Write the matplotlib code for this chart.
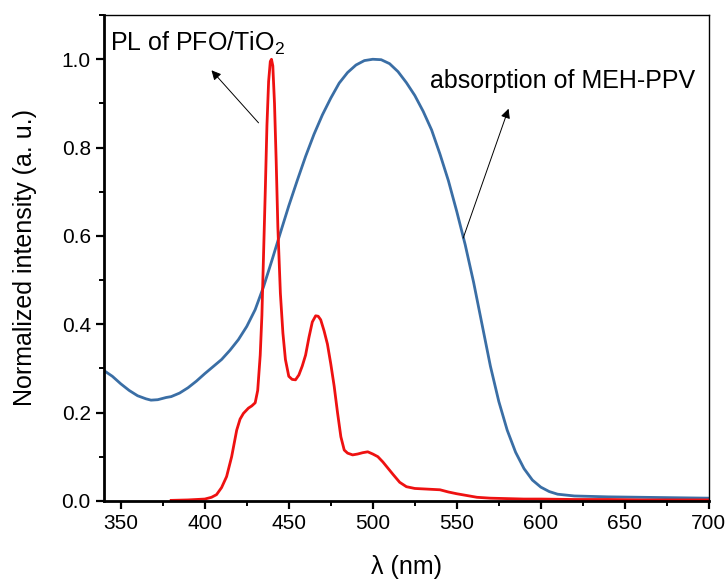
import matplotlib

matplotlib.use("Agg")
import matplotlib.pyplot as plt
from matplotlib.ticker import MultipleLocator

plt.rcParams["font.family"] = ["Liberation Sans", "DejaVu Sans"]
plt.rcParams["mathtext.fontset"] = "custom"
plt.rcParams["mathtext.rm"] = "Liberation Sans"

# absorption of MEH-PPV (blue)
abs_nm = [340, 345, 350, 355, 360, 365, 368, 372, 377, 380, 385, 390, 395, 400,
          405, 410, 415, 420, 425, 430, 435, 440, 445, 450, 455, 460, 465, 470,
          475, 480, 485, 490, 495, 500, 505, 510, 515, 520, 525, 530, 535, 540,
          545, 550, 555, 560, 565, 570, 575, 580, 585, 590, 595, 600, 605, 610,
          620, 640, 660, 680, 700]
abs_val = [0.295, 0.282, 0.265, 0.250, 0.238, 0.231, 0.228, 0.229, 0.234, 0.236,
           0.244, 0.256, 0.271, 0.288, 0.304, 0.320, 0.341, 0.365, 0.395, 0.433,
           0.485, 0.545, 0.607, 0.668, 0.725, 0.780, 0.830, 0.874, 0.912, 0.946,
           0.970, 0.987, 0.997, 1.000, 0.999, 0.990, 0.972, 0.947, 0.918, 0.882,
           0.840, 0.785, 0.725, 0.655, 0.580, 0.495, 0.400, 0.305, 0.225, 0.160,
           0.110, 0.073, 0.047, 0.031, 0.021, 0.015, 0.011, 0.009, 0.008, 0.007,
           0.006]

# PL of PFO/TiO2 (red)
pl_nm = [380, 390, 400, 404, 407, 410, 413, 416, 419, 421, 423, 426, 428, 430,
         431.5, 433, 434, 435, 436, 437, 438, 439, 439.7, 440.5, 441.5, 442.5,
         443.5, 445, 446.5, 448, 450, 452, 454, 456, 458, 460, 462, 464, 466,
         467.5, 469, 471, 473, 475, 477, 479, 481, 483, 485, 488, 491, 494, 497,
         500, 503, 506, 509, 512, 516, 520, 525, 530, 535, 540, 545, 550, 556,
         562, 570, 580, 590, 600, 620, 640, 660, 680, 700]
pl_val = [0.001, 0.002, 0.004, 0.008, 0.014, 0.030, 0.055, 0.100, 0.160, 0.185,
          0.198, 0.210, 0.215, 0.222, 0.250, 0.330, 0.420, 0.560, 0.700, 0.850,
          0.950, 0.995, 1.000, 0.985, 0.900, 0.770, 0.620, 0.470, 0.380, 0.320,
          0.282, 0.275, 0.274, 0.285, 0.305, 0.330, 0.370, 0.405, 0.419, 0.418,
          0.410, 0.385, 0.355, 0.310, 0.260, 0.200, 0.145, 0.115, 0.108, 0.104,
          0.106, 0.109, 0.111, 0.106, 0.100, 0.088, 0.074, 0.060, 0.042, 0.032,
          0.028, 0.027, 0.026, 0.025, 0.020, 0.016, 0.012, 0.008, 0.006, 0.005,
          0.004, 0.004, 0.003, 0.003, 0.002, 0.002, 0.002]

x_ticks = [350, 400, 450, 500, 550, 600, 650, 700]
y_ticks = [0.0, 0.2, 0.4, 0.6, 0.8, 1.0]

fig = plt.figure(figsize=(7.27, 5.81), dpi=100)
ax = fig.add_axes([0.143, 0.138, 0.832, 0.836])

ax.plot(abs_nm, abs_val, color="#3a6ea5", lw=2.0)
ax.plot(pl_nm, pl_val, color="#ee1111", lw=2.0)

ax.set_xlim(340, 700)
ax.set_ylim(0, 1.1)
ax.set_xticks(x_ticks)
ax.set_yticks(y_ticks)
ax.set_yticklabels([f"{v:.1f}" for v in y_ticks])
ax.xaxis.set_minor_locator(MultipleLocator(25))
ax.yaxis.set_minor_locator(MultipleLocator(0.1))
ax.tick_params(which="major", direction="out", length=6, width=1.6, labelsize=15)
ax.tick_params(which="minor", direction="out", length=3.5, width=1.4)

for side in ("left", "bottom"):
    ax.spines[side].set_linewidth(2.0)
for side in ("top", "right"):
    ax.spines[side].set_linewidth(1.0)

ax.set_xlabel("λ (nm)", fontsize=18, labelpad=16)
ax.set_ylabel("Normalized intensity (a. u.)", fontsize=18, labelpad=18)

ax.text(343.6, 1.02, r"PL of PFO/TiO$_\mathrm{2}$", fontsize=18)
ax.annotate("", xy=(404, 0.975), xytext=(432, 0.856),
            arrowprops=dict(arrowstyle="-|>", lw=0.7, color="black",
                            mutation_scale=14, shrinkA=0, shrinkB=0))

ax.text(534.2, 0.936, "absorption of MEH-PPV", fontsize=18)
ax.annotate("", xy=(580.8, 0.888), xytext=(553.8, 0.595),
            arrowprops=dict(arrowstyle="-|>", lw=0.7, color="black",
                            mutation_scale=14, shrinkA=0, shrinkB=0))

fig.savefig("out.png", dpi=100)
